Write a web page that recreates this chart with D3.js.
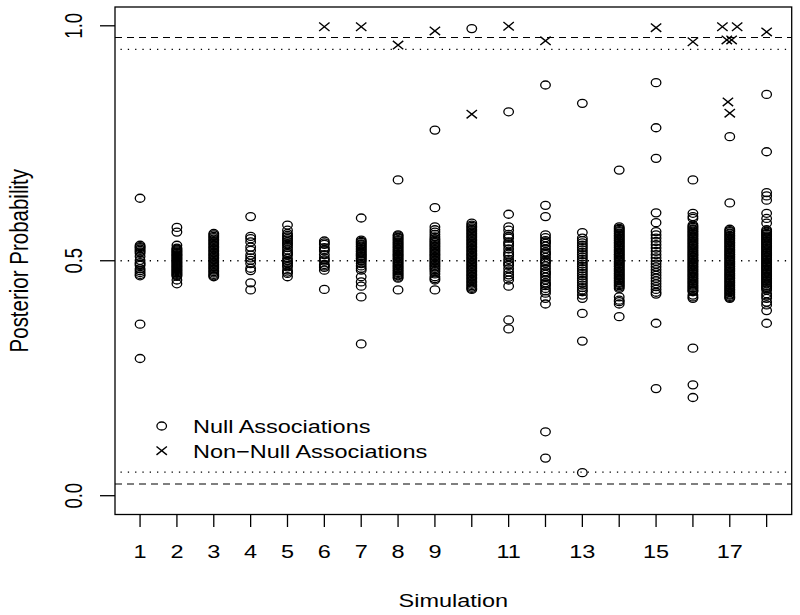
<!DOCTYPE html>
<html>
<head>
<meta charset="utf-8">
<script src="https://cdn.jsdelivr.net/npm/d3@7"></script>
<style>
  html, body { margin: 0; padding: 0; background: #fff; }
  svg { display: block; }
  text { font-family: "Liberation Sans", Arial, Helvetica, sans-serif; fill: #000; }
</style>
</head>
<body>
<svg id="chart" width="800" height="615"></svg>
<script>
// ---------------- data ----------------
const simulations = [1, 2, 3, 4, 5, 6, 7, 8, 9, 10, 11, 12, 13, 14, 15, 16, 17, 18];
const xTickLabels = ["1", "2", "3", "4", "5", "6", "7", "8", "9", "", "11", "", "13", "", "15", "", "17", ""];
const yTicks = [0.0, 0.5, 1.0];
const yTickLabels = ["0.0", "0.5", "1.0"];
const dashedLevels = [0.975, 0.025];
const dottedLevels = [0.95, 0.5, 0.05];

// posterior probabilities of null associations, one list per simulation
const nullValues = [
  [0.633, 0.533, 0.530, 0.528, 0.525, 0.522, 0.519, 0.516, 0.509, 0.501, 0.496, 0.493, 0.490, 0.483, 0.479, 0.475, 0.471, 0.468, 0.365, 0.292],
  [0.571, 0.561, 0.533, 0.527, 0.525, 0.523, 0.521, 0.519, 0.517, 0.515, 0.513, 0.511, 0.509, 0.507, 0.505, 0.503, 0.501, 0.499, 0.497, 0.495, 0.493, 0.491, 0.489, 0.487, 0.485, 0.483, 0.481, 0.479, 0.477, 0.475, 0.473, 0.471, 0.469, 0.467, 0.459, 0.451],
  [0.558, 0.555, 0.552, 0.549, 0.546, 0.543, 0.540, 0.537, 0.534, 0.531, 0.528, 0.525, 0.522, 0.519, 0.516, 0.513, 0.510, 0.507, 0.504, 0.501, 0.498, 0.495, 0.492, 0.489, 0.486, 0.483, 0.480, 0.477, 0.474, 0.471, 0.468, 0.466],
  [0.594, 0.552, 0.547, 0.540, 0.529, 0.522, 0.512, 0.506, 0.501, 0.494, 0.484, 0.479, 0.453, 0.438],
  [0.576, 0.565, 0.558, 0.554, 0.551, 0.547, 0.544, 0.540, 0.536, 0.533, 0.528, 0.523, 0.518, 0.515, 0.512, 0.505, 0.500, 0.497, 0.494, 0.490, 0.487, 0.480, 0.476, 0.473, 0.466],
  [0.542, 0.538, 0.535, 0.528, 0.524, 0.521, 0.513, 0.506, 0.502, 0.499, 0.492, 0.489, 0.486, 0.480, 0.439],
  [0.591, 0.544, 0.541, 0.539, 0.536, 0.534, 0.531, 0.529, 0.526, 0.524, 0.521, 0.519, 0.516, 0.514, 0.511, 0.509, 0.506, 0.504, 0.501, 0.499, 0.494, 0.489, 0.484, 0.480, 0.466, 0.455, 0.446, 0.423, 0.323],
  [0.672, 0.555, 0.553, 0.550, 0.548, 0.545, 0.543, 0.540, 0.538, 0.535, 0.533, 0.530, 0.528, 0.525, 0.523, 0.520, 0.518, 0.515, 0.513, 0.510, 0.508, 0.505, 0.503, 0.500, 0.498, 0.495, 0.493, 0.490, 0.488, 0.485, 0.483, 0.480, 0.478, 0.475, 0.473, 0.470, 0.468, 0.465, 0.463, 0.438],
  [0.778, 0.613, 0.572, 0.566, 0.561, 0.556, 0.551, 0.547, 0.544, 0.541, 0.538, 0.535, 0.532, 0.529, 0.526, 0.523, 0.520, 0.517, 0.514, 0.511, 0.508, 0.505, 0.502, 0.499, 0.496, 0.493, 0.490, 0.487, 0.484, 0.481, 0.477, 0.472, 0.466, 0.462, 0.459, 0.438],
  [0.994, 0.580, 0.576, 0.573, 0.570, 0.567, 0.564, 0.561, 0.558, 0.555, 0.552, 0.549, 0.546, 0.543, 0.540, 0.537, 0.534, 0.531, 0.528, 0.525, 0.522, 0.519, 0.516, 0.513, 0.510, 0.507, 0.504, 0.501, 0.498, 0.495, 0.492, 0.489, 0.486, 0.483, 0.480, 0.477, 0.474, 0.471, 0.468, 0.465, 0.462, 0.459, 0.456, 0.453, 0.450, 0.447, 0.444, 0.441, 0.439],
  [0.817, 0.599, 0.572, 0.565, 0.556, 0.552, 0.548, 0.540, 0.536, 0.532, 0.525, 0.518, 0.514, 0.510, 0.503, 0.497, 0.493, 0.490, 0.483, 0.476, 0.470, 0.465, 0.459, 0.446, 0.374, 0.355],
  [0.874, 0.618, 0.594, 0.555, 0.549, 0.543, 0.540, 0.537, 0.531, 0.525, 0.519, 0.516, 0.513, 0.507, 0.501, 0.498, 0.495, 0.489, 0.483, 0.477, 0.474, 0.471, 0.465, 0.459, 0.453, 0.450, 0.447, 0.441, 0.436, 0.431, 0.420, 0.408, 0.136, 0.080],
  [0.835, 0.560, 0.548, 0.543, 0.538, 0.533, 0.528, 0.523, 0.518, 0.513, 0.508, 0.503, 0.498, 0.493, 0.488, 0.483, 0.478, 0.473, 0.468, 0.463, 0.458, 0.453, 0.448, 0.443, 0.438, 0.434, 0.427, 0.420, 0.388, 0.329, 0.049],
  [0.693, 0.572, 0.569, 0.567, 0.564, 0.562, 0.559, 0.557, 0.554, 0.552, 0.549, 0.547, 0.544, 0.542, 0.539, 0.537, 0.534, 0.532, 0.529, 0.527, 0.524, 0.522, 0.519, 0.517, 0.514, 0.512, 0.509, 0.507, 0.504, 0.502, 0.499, 0.497, 0.494, 0.492, 0.489, 0.487, 0.484, 0.482, 0.479, 0.477, 0.474, 0.472, 0.469, 0.467, 0.464, 0.462, 0.459, 0.457, 0.454, 0.452, 0.449, 0.447, 0.444, 0.441, 0.423, 0.416, 0.413, 0.408, 0.381],
  [0.879, 0.783, 0.718, 0.602, 0.581, 0.562, 0.555, 0.548, 0.541, 0.534, 0.527, 0.520, 0.513, 0.506, 0.499, 0.493, 0.487, 0.481, 0.475, 0.469, 0.463, 0.457, 0.451, 0.445, 0.439, 0.433, 0.429, 0.367, 0.228],
  [0.672, 0.601, 0.594, 0.590, 0.576, 0.573, 0.571, 0.568, 0.566, 0.563, 0.561, 0.558, 0.556, 0.553, 0.551, 0.548, 0.546, 0.543, 0.541, 0.538, 0.536, 0.533, 0.531, 0.528, 0.526, 0.523, 0.521, 0.518, 0.516, 0.513, 0.511, 0.508, 0.506, 0.503, 0.501, 0.498, 0.496, 0.493, 0.491, 0.488, 0.486, 0.483, 0.481, 0.478, 0.476, 0.473, 0.471, 0.468, 0.466, 0.463, 0.461, 0.458, 0.456, 0.453, 0.451, 0.448, 0.446, 0.443, 0.441, 0.438, 0.436, 0.434, 0.427, 0.423, 0.420, 0.314, 0.236, 0.209],
  [0.764, 0.623, 0.567, 0.564, 0.562, 0.559, 0.557, 0.554, 0.552, 0.549, 0.547, 0.544, 0.542, 0.539, 0.537, 0.534, 0.532, 0.529, 0.527, 0.524, 0.522, 0.519, 0.517, 0.514, 0.512, 0.509, 0.507, 0.504, 0.502, 0.499, 0.497, 0.494, 0.492, 0.489, 0.487, 0.484, 0.482, 0.479, 0.477, 0.474, 0.472, 0.469, 0.467, 0.464, 0.462, 0.459, 0.457, 0.454, 0.452, 0.449, 0.447, 0.444, 0.442, 0.439, 0.437, 0.434, 0.432, 0.429, 0.427, 0.424, 0.422, 0.420],
  [0.854, 0.732, 0.645, 0.638, 0.629, 0.601, 0.590, 0.580, 0.566, 0.563, 0.561, 0.558, 0.556, 0.553, 0.551, 0.548, 0.546, 0.543, 0.541, 0.538, 0.536, 0.533, 0.531, 0.528, 0.526, 0.523, 0.521, 0.518, 0.516, 0.513, 0.511, 0.508, 0.506, 0.503, 0.501, 0.498, 0.496, 0.493, 0.491, 0.488, 0.486, 0.483, 0.481, 0.478, 0.476, 0.473, 0.471, 0.468, 0.466, 0.463, 0.461, 0.458, 0.456, 0.453, 0.451, 0.448, 0.446, 0.443, 0.441, 0.438, 0.430, 0.425, 0.420, 0.412, 0.406, 0.394, 0.367]
];

// non-null associations: simulation position and posterior probability
const nonNullSim   = [6, 7, 8, 9, 10, 11, 12, 15, 16, 16.8, 17.2, 16.92, 17.05, 16.95, 17.0, 18];
const nonNullValue = [0.998, 0.998, 0.959, 0.989, 0.812, 0.999, 0.968, 0.996, 0.966, 0.998, 0.998, 0.970, 0.970, 0.838, 0.814, 0.987];

const legendLabels = ["Null Associations", "Non\u2212Null Associations"];

// ---------------- drawing ----------------
const svg = d3.select("#chart");
const SX = 1.27;         // horizontal stretch of the reference image
const FS = 18.5;

const plot = { left: 115, right: 791.7, top: 7, bottom: 514.5 };
const x = d3.scaleLinear().domain([0.32, 18.68]).range([plot.left, plot.right]);
const y = d3.scaleLinear().domain([-0.04, 1.04]).range([plot.bottom, plot.top]);

const txt = (g, px, py, s, anchor, rotated, fs) => {
  return g.append("text")
    .attr("transform", rotated
      ? `translate(${px},${py}) rotate(-90) scale(1,${SX})`
      : `translate(${px},${py}) scale(${SX},1)`)
    .attr("text-anchor", anchor)
    .style("font-size", (fs || FS) + "px")
    .text(s);
};

// reference lines
svg.append("g").selectAll("line").data(dashedLevels).join("line")
  .attr("x1", plot.left).attr("x2", plot.right)
  .attr("y1", d => y(d)).attr("y2", d => y(d))
  .attr("stroke", "#000").attr("stroke-width", 1.1)
  .attr("stroke-dasharray", "7,5");
svg.append("g").selectAll("line").data(dottedLevels).join("line")
  .attr("x1", plot.left).attr("x2", plot.right)
  .attr("y1", d => y(d)).attr("y2", d => y(d))
  .attr("stroke", "#000").attr("stroke-width", 1.3)
  .attr("stroke-dasharray", "1.3,6")
  .attr("stroke-dashoffset", -5.5);

// null points (open circles)
const nullPts = [];
nullValues.forEach((vals, i) => vals.forEach(v => nullPts.push({ s: simulations[i], v })));
svg.append("g").selectAll("ellipse").data(nullPts).join("ellipse")
  .attr("cx", d => x(d.s)).attr("cy", d => y(d.v))
  .attr("rx", 4.8).attr("ry", 4.0)
  .attr("fill", "none").attr("stroke", "#000").attr("stroke-width", 1.3);

// non-null points (crosses)
const cross = "M-5.2,-4.2L5.2,4.2M-5.2,4.2L5.2,-4.2";
svg.append("g").selectAll("path").data(nonNullSim.map((s, i) => ({ s, v: nonNullValue[i] }))).join("path")
  .attr("transform", d => `translate(${x(d.s)},${y(d.v)})`)
  .attr("d", cross)
  .attr("fill", "none").attr("stroke", "#000").attr("stroke-width", 1.4);

// box
svg.append("rect")
  .attr("x", plot.left).attr("y", plot.top)
  .attr("width", plot.right - plot.left).attr("height", plot.bottom - plot.top)
  .attr("fill", "none").attr("stroke", "#000").attr("stroke-width", 1.3);

// x axis
const gx = svg.append("g");
gx.selectAll("line").data(simulations).join("line")
  .attr("x1", d => x(d)).attr("x2", d => x(d))
  .attr("y1", plot.bottom).attr("y2", plot.bottom + 12.5)
  .attr("stroke", "#000").attr("stroke-width", 1.3);
simulations.forEach((s, i) => { if (xTickLabels[i]) txt(gx, x(s), 558, xTickLabels[i], "middle", false); });
txt(gx, (plot.left + plot.right) / 2, 607, "Simulation", "middle", false);

// y axis
const gy = svg.append("g");
gy.selectAll("line").data(yTicks).join("line")
  .attr("x1", plot.left - 15).attr("x2", plot.left)
  .attr("y1", d => y(d)).attr("y2", d => y(d))
  .attr("stroke", "#000").attr("stroke-width", 1.3);
yTicks.forEach((t, i) => txt(gy, 82, y(t), yTickLabels[i], "middle", true));
txt(gy, 28, (plot.top + plot.bottom) / 2, "Posterior Probability", "middle", true, 20.5);

// legend
const lg = svg.append("g");
lg.append("ellipse").attr("cx", 161.7).attr("cy", 426).attr("rx", 4.8).attr("ry", 4.0)
  .attr("fill", "none").attr("stroke", "#000").attr("stroke-width", 1.3);
lg.append("path").attr("transform", "translate(161.7,450.7)").attr("d", cross)
  .attr("fill", "none").attr("stroke", "#000").attr("stroke-width", 1.4);
txt(lg, 193, 433, legendLabels[0], "start", false);
txt(lg, 193, 457.5, legendLabels[1], "start", false);
</script>
</body>
</html>
